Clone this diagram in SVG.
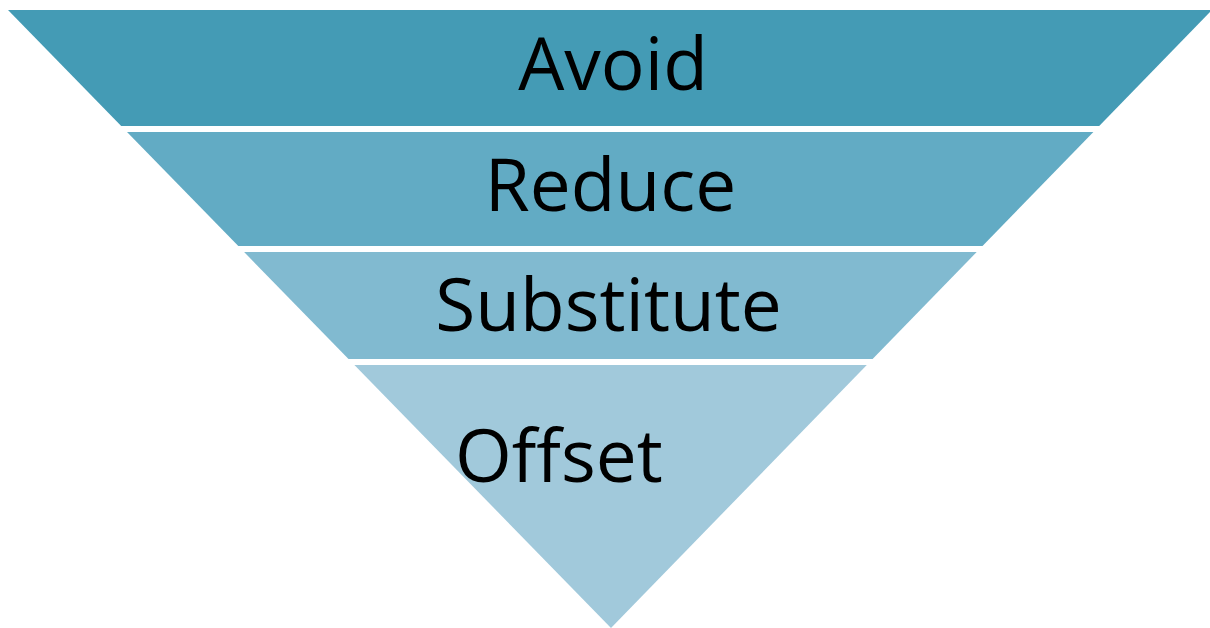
<svg xmlns="http://www.w3.org/2000/svg" width="1210" height="628" viewBox="0 0 1210 628">
<style>
.lbl{font-family:"Open Sans","Liberation Sans",sans-serif;font-size:73px;fill:#000}
</style>
<rect width="1210" height="628" fill="#fff"/>
<g id="avoid">
<polygon points="8,10 1212,10 1099.2,126 121.2,126" fill="#449BB5"/>
<text class="lbl" x="613" y="90" text-anchor="middle">Avoid</text>
</g>
<g id="reduce">
<polygon points="127,132 1093.4,132 982.5,246 238.3,246" fill="#62ABC4"/>
<text class="lbl" x="610.5" y="211" text-anchor="middle">Reduce</text>
</g>
<g id="substitute">
<polygon points="244.1,252 976.7,252 872.6,359 348.5,359" fill="#81BAD0"/>
<text class="lbl" x="608.5" y="331" text-anchor="middle">Substitute</text>
</g>
<g id="offset">
<polygon points="354.4,365 866.8,365 611,628" fill="#A1C9DB"/>
<text class="lbl" x="455" y="482">Offset</text>
</g>
<g id="connectors"/>
</svg>
